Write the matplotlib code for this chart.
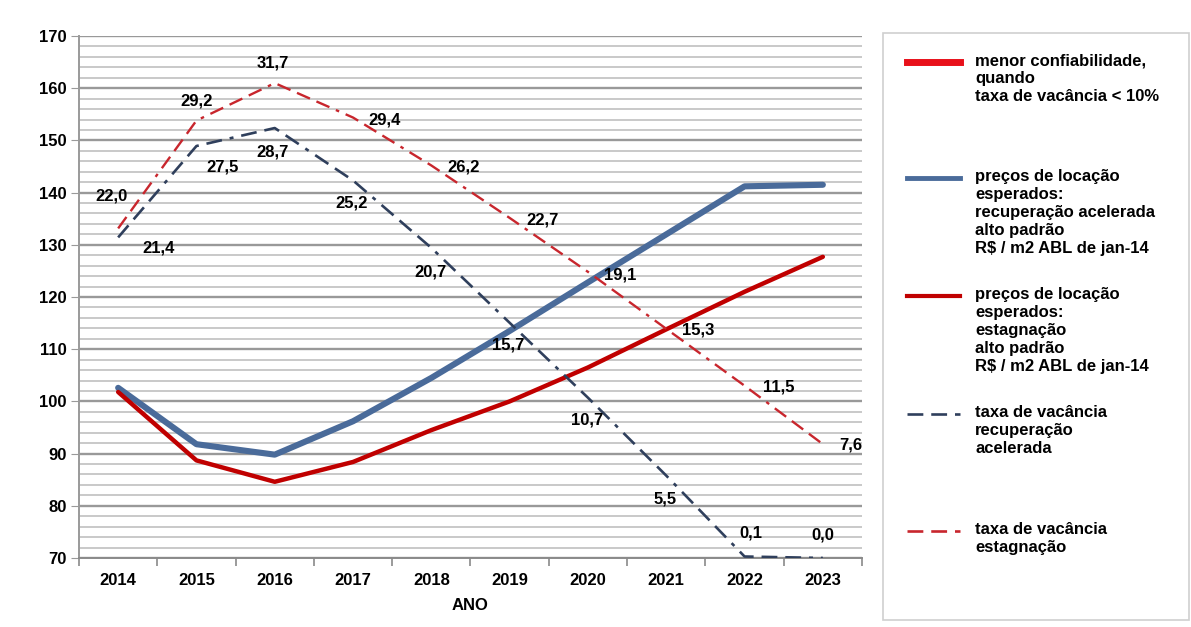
import matplotlib
matplotlib.use("Agg")
import matplotlib.pyplot as plt
from matplotlib.lines import Line2D
from matplotlib.patches import Rectangle
from matplotlib.ticker import MultipleLocator

plt.rcParams["font.family"] = ["Liberation Sans", "DejaVu Sans"]
plt.rcParams["font.weight"] = "bold"

# --- data ---
anos = [2014, 2015, 2016, 2017, 2018, 2019, 2020, 2021, 2022, 2023]
preco_recuperacao = [102.6, 91.8, 89.8, 96.2, 104.5, 113.5, 122.8, 132.0, 141.2, 141.5]
preco_estagnacao = [101.8, 88.7, 84.6, 88.4, 94.5, 100.0, 106.5, 113.8, 121.0, 127.7]
vacancia_recuperacao = [21.4, 27.5, 28.7, 25.2, 20.7, 15.7, 10.7, 5.5, 0.1, 0.0]
vacancia_estagnacao = [22.0, 29.2, 31.7, 29.4, 26.2, 22.7, 19.1, 15.3, 11.5, 7.6]

legend_labels = [
    "menor confiabilidade,\nquando\ntaxa de vacância < 10%",
    "preços de locação\nesperados:\nrecuperação acelerada\nalto padrão\nR$ / m2 ABL de jan-14",
    "preços de locação\nesperados:\nestagnação\nalto padrão\nR$ / m2 ABL de jan-14",
    "taxa de vacância\nrecuperação\nacelerada",
    "taxa de vacância\nestagnação",
]

BLUE = "#4a6b9a"
RED = "#c00000"
BLUE_D = "#2f3f5c"
RED_D = "#c8262d"
BRIGHT_RED = "#e8101a"
dash = (0, (6, 3, 6, 3, 6, 3, 1.5, 3))

W, H = 1191, 627
fig = plt.figure(figsize=(W / 100, H / 100), dpi=100)
fig.patch.set_facecolor("white")
ax = fig.add_axes([79 / W, 1 - 558 / H, (862 - 79) / W, (558 - 36) / H])

ax.set_xlim(2013.5, 2023.5)
ax.set_ylim(70, 170)
ax.yaxis.set_major_locator(MultipleLocator(10))
ax.yaxis.set_minor_locator(MultipleLocator(2))
ax.grid(which="minor", axis="y", color="#c9c9c9", lw=1.4)
ax.grid(which="major", axis="y", color="#999999", lw=1.7)
ax.set_axisbelow(True)
for s in ["top", "right"]:
    ax.spines[s].set_visible(False)
ax.spines["left"].set_color("#9a9a9a")
ax.spines["bottom"].set_color("#8a8a8a")
ax.spines["left"].set_linewidth(1.4)
ax.spines["bottom"].set_linewidth(1.4)

ax.set_xticks(anos)
ax.set_xticklabels([str(a) for a in anos], fontsize=12, fontweight="bold")
ax.set_xticks([a + 0.5 for a in [2013] + anos], minor=True)
ax.tick_params(axis="x", which="major", length=0, pad=11)
ax.tick_params(axis="x", which="minor", length=6, color="#8a8a8a", width=1.2)
ax.tick_params(axis="y", which="major", length=6, color="#9a9a9a", labelsize=12, pad=3)
ax.tick_params(axis="y", which="minor", length=0)
for lab in ax.get_yticklabels():
    lab.set_fontweight("bold")
ax.set_xlabel("ANO", fontsize=12, fontweight="bold", labelpad=7)

ax.plot(anos, preco_recuperacao, color=BLUE, lw=4.4, solid_joinstyle="round",
        solid_capstyle="round", zorder=3)
ax.plot(anos, preco_estagnacao, color=RED, lw=3.2, solid_joinstyle="round",
        solid_capstyle="round", zorder=3)

ax2 = ax.twinx()
ax2.set_ylim(0, 100 / 2.87)
ax2.axis("off")
ax2.plot(anos, vacancia_recuperacao, color=BLUE_D, lw=1.9, linestyle=dash, zorder=4)
ax2.plot(anos, vacancia_estagnacao, color=RED_D, lw=1.7, linestyle=dash, zorder=4)

off_rec = [(40, -11), (26, -21), (-2, -24), (-1, -23), (-1, -24),
           (-1, -22), (-1, -22), (-1, -23), (6, 24), (0, 23)]
off_est = [(-7, 32), (0, 20), (-2, 20), (32, -2), (32, -2),
           (33, -2), (32, -3), (32, -1), (34, -1), (28, -1)]
for a, v, o in zip(anos, vacancia_recuperacao, off_rec):
    ax2.annotate(f"{v:.1f}".replace(".", ","), (a, v), xytext=o,
                 textcoords="offset pixels", ha="center", va="center",
                 fontsize=12, fontweight="bold", zorder=6)
for a, v, o in zip(anos, vacancia_estagnacao, off_est):
    ax2.annotate(f"{v:.1f}".replace(".", ","), (a, v), xytext=o,
                 textcoords="offset pixels", ha="center", va="center",
                 fontsize=12, fontweight="bold", zorder=6)

# --- legend panel ---
fig.add_artist(Rectangle((883 / W, 1 - 620 / H), (1189 - 883) / W, (620 - 33) / H,
                         transform=fig.transFigure, fill=False,
                         edgecolor="#cfcfcf", lw=1.2))
leg_y = [62, 178, 296, 414, 531]
leg_style = [
    dict(color=BRIGHT_RED, lw=5),
    dict(color=BLUE, lw=3.5),
    dict(color=RED, lw=3),
    dict(color=BLUE_D, lw=1.9, linestyle=dash),
    dict(color=RED_D, lw=1.9, linestyle=dash),
]
for y, st, txt in zip(leg_y, leg_style, legend_labels):
    yf = 1 - y / H
    fig.add_artist(Line2D([907 / W, 960 / W], [yf, yf], transform=fig.transFigure, **st))
    fig.text(975 / W, 1 - (y - 9) / H, txt, fontsize=12, fontweight="bold",
             va="top", ha="left", linespacing=1.25)

fig.savefig("out.png", dpi=100)
